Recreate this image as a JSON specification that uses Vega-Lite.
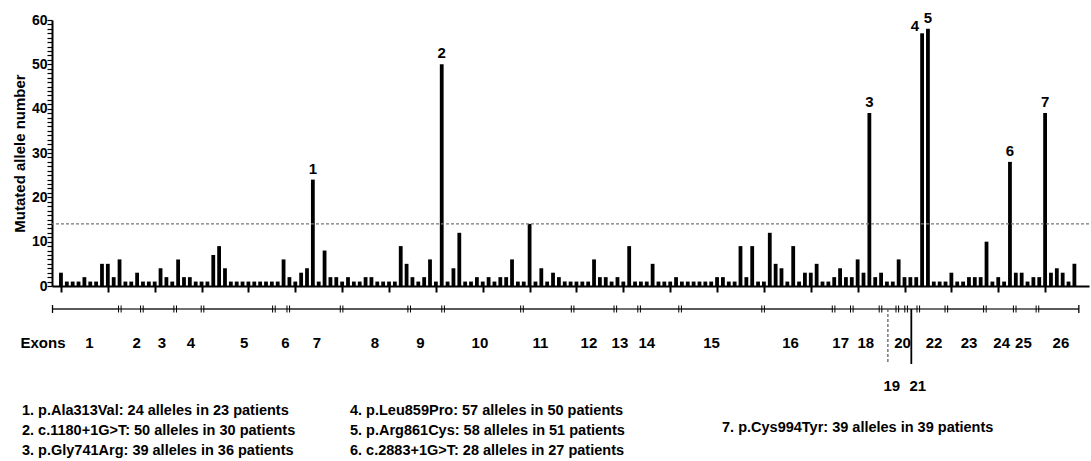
{
  "$schema": "https://vega.github.io/schema/vega-lite/v6.json",
  "autosize": {"type": "none"},
  "width": 1037,
  "height": 266,
  "padding": {"left": 52, "top": 20, "right": 2, "bottom": 175},
  "background": "white",
  "config": {"view": {"stroke": null}, "font": "Liberation Sans", "axisY": {"ticks": true, "tickColor": "#000", "tickSize": 5, "tickWidth": 1.2}},
  "datasets": {
    "bars": [
      {"i":1,"n":3},{"i":2,"n":1},{"i":3,"n":1},{"i":4,"n":1},{"i":5,"n":2},{"i":6,"n":1},{"i":7,"n":1},{"i":8,"n":5},{"i":9,"n":5},{"i":10,"n":2},
      {"i":11,"n":6},{"i":12,"n":1},{"i":13,"n":1},{"i":14,"n":3},{"i":15,"n":1},{"i":16,"n":1},{"i":17,"n":1},{"i":18,"n":4},{"i":19,"n":2},{"i":20,"n":1},
      {"i":21,"n":6},{"i":22,"n":2},{"i":23,"n":2},{"i":24,"n":1},{"i":25,"n":1},{"i":26,"n":1},{"i":27,"n":7},{"i":28,"n":9},{"i":29,"n":4},{"i":30,"n":1},
      {"i":31,"n":1},{"i":32,"n":1},{"i":33,"n":1},{"i":34,"n":1},{"i":35,"n":1},{"i":36,"n":1},{"i":37,"n":1},{"i":38,"n":1},{"i":39,"n":6},{"i":40,"n":2},
      {"i":41,"n":1},{"i":42,"n":3},{"i":43,"n":4},{"i":44,"n":24,"mut":"1"},{"i":45,"n":1},{"i":46,"n":8},{"i":47,"n":2},{"i":48,"n":2},{"i":49,"n":1},{"i":50,"n":2},
      {"i":51,"n":1},{"i":52,"n":1},{"i":53,"n":2},{"i":54,"n":2},{"i":55,"n":1},{"i":56,"n":1},{"i":57,"n":1},{"i":58,"n":1},{"i":59,"n":9},{"i":60,"n":5},
      {"i":61,"n":2},{"i":62,"n":1},{"i":63,"n":2},{"i":64,"n":6},{"i":65,"n":1},{"i":66,"n":50,"mut":"2"},{"i":67,"n":1},{"i":68,"n":4},{"i":69,"n":12},{"i":70,"n":1},
      {"i":71,"n":1},{"i":72,"n":2},{"i":73,"n":1},{"i":74,"n":2},{"i":75,"n":1},{"i":76,"n":2},{"i":77,"n":2},{"i":78,"n":6},{"i":79,"n":1},{"i":80,"n":1},
      {"i":81,"n":14},{"i":82,"n":1},{"i":83,"n":4},{"i":84,"n":1},{"i":85,"n":3},{"i":86,"n":2},{"i":87,"n":1},{"i":88,"n":1},{"i":89,"n":1},{"i":90,"n":1},
      {"i":91,"n":1},{"i":92,"n":6},{"i":93,"n":2},{"i":94,"n":2},{"i":95,"n":1},{"i":96,"n":2},{"i":97,"n":1},{"i":98,"n":9},{"i":99,"n":1},{"i":100,"n":1},
      {"i":101,"n":1},{"i":102,"n":5},{"i":103,"n":1},{"i":104,"n":1},{"i":105,"n":1},{"i":106,"n":2},{"i":107,"n":1},{"i":108,"n":1},{"i":109,"n":1},{"i":110,"n":1},
      {"i":111,"n":1},{"i":112,"n":1},{"i":113,"n":2},{"i":114,"n":2},{"i":115,"n":1},{"i":116,"n":1},{"i":117,"n":9},{"i":118,"n":2},{"i":119,"n":9},{"i":120,"n":1},
      {"i":121,"n":1},{"i":122,"n":12},{"i":123,"n":5},{"i":124,"n":4},{"i":125,"n":1},{"i":126,"n":9},{"i":127,"n":1},{"i":128,"n":3},{"i":129,"n":3},{"i":130,"n":5},
      {"i":131,"n":1},{"i":132,"n":1},{"i":133,"n":2},{"i":134,"n":4},{"i":135,"n":2},{"i":136,"n":2},{"i":137,"n":6},{"i":138,"n":3},{"i":139,"n":39,"mut":"3"},{"i":140,"n":2},
      {"i":141,"n":3},{"i":142,"n":1},{"i":143,"n":1},{"i":144,"n":6},{"i":145,"n":2},{"i":146,"n":2},{"i":147,"n":2},{"i":148,"n":57,"mut":"4"},{"i":149,"n":58,"mut":"5"},{"i":150,"n":1},
      {"i":151,"n":1},{"i":152,"n":1},{"i":153,"n":3},{"i":154,"n":1},{"i":155,"n":1},{"i":156,"n":2},{"i":157,"n":2},{"i":158,"n":2},{"i":159,"n":10},{"i":160,"n":1},
      {"i":161,"n":2},{"i":162,"n":1},{"i":163,"n":28,"mut":"6"},{"i":164,"n":3},{"i":165,"n":3},{"i":166,"n":1},{"i":167,"n":2},{"i":168,"n":2},{"i":169,"n":39,"mut":"7"},{"i":170,"n":3},
      {"i":171,"n":4},{"i":172,"n":3},{"i":173,"n":1},{"i":174,"n":5}
    ],
    "exons": [
      {"exon":"1","start":0.41,"end":11.79,"lx":6.63},
      {"exon":"2","start":11.79,"end":15.52,"lx":14.63},
      {"exon":"3","start":15.52,"end":21.15,"lx":18.89},
      {"exon":"4","start":21.15,"end":25.77,"lx":23.81},
      {"exon":"5","start":25.77,"end":37.84,"lx":32.82},
      {"exon":"6","start":37.84,"end":40.27,"lx":39.8},
      {"exon":"7","start":40.27,"end":49.28,"lx":45.13},
      {"exon":"8","start":49.28,"end":60.71,"lx":54.9},
      {"exon":"9","start":60.71,"end":66.44,"lx":62.6},
      {"exon":"10","start":66.44,"end":79.78,"lx":72.67},
      {"exon":"11","start":79.78,"end":88.34,"lx":82.9},
      {"exon":"12","start":88.34,"end":95.56,"lx":91.1},
      {"exon":"13","start":95.56,"end":99.58,"lx":96.33},
      {"exon":"14","start":99.58,"end":106.51,"lx":100.88},
      {"exon":"15","start":106.51,"end":120.54,"lx":111.84},
      {"exon":"16","start":120.54,"end":132.46,"lx":125.18},
      {"exon":"17","start":132.46,"end":135.54,"lx":133.65},
      {"exon":"18","start":135.54,"end":140.39,"lx":137.9},
      {"exon":"19","start":140.39,"end":143.23,"lx":142.3,"vx":141.64},
      {"exon":"20","start":143.23,"end":144.72,"lx":144.13},
      {"exon":"21","start":144.72,"end":146.78,"lx":146.7,"vx":145.6},
      {"exon":"22","start":146.78,"end":151.52,"lx":149.45},
      {"exon":"23","start":151.52,"end":158.04,"lx":155.37},
      {"exon":"24","start":158.04,"end":163.08,"lx":160.88},
      {"exon":"25","start":163.08,"end":166.92,"lx":164.55},
      {"exon":"26","start":166.92,"end":173.92,"lx":170.89}
    ],
    "bounds": [
      {"b":0.41,"end":true},{"b":11.79},{"b":15.52},{"b":21.15},{"b":25.77},{"b":37.84},{"b":40.27},{"b":49.28},{"b":60.71},{"b":66.44},
      {"b":79.78},{"b":88.34},{"b":95.56},{"b":99.58},{"b":106.51},{"b":120.54},{"b":132.46},{"b":135.54},{"b":140.39},{"b":143.23},
      {"b":144.72},{"b":146.78},{"b":151.52},{"b":158.04},{"b":163.08},{"b":166.92},{"b":173.92,"end":true}
    ],
    "notes": [
      {"t":"1. p.Ala313Val: 24 alleles in 23 patients","lx":-4.75,"row":4.636},
      {"t":"2. c.1180+1G>T: 50 alleles in 30 patients","lx":-4.75,"row":5.545},
      {"t":"3. p.Gly741Arg: 39 alleles in 36 patients","lx":-4.75,"row":6.455},
      {"t":"4. p.Leu859Pro: 57 alleles in 50 patients","lx":50.7,"row":4.636},
      {"t":"5. p.Arg861Cys: 58 alleles in 51 patients","lx":50.7,"row":5.545},
      {"t":"6. c.2883+1G>T: 28 alleles in 27 patients","lx":50.7,"row":6.455},
      {"t":"7. p.Cys994Tyr: 39 alleles in 39 patients","lx":113.6,"row":5.41}
    ]
  },
  "layer": [
    {
      "data": {"name": "bars"},
      "layer": [
        {
          "mark": {"type": "bar", "width": 3.8, "color": "#000"},
          "encoding": {
            "x": {"field": "i", "type": "quantitative",
              "scale": {"domain": [0.3238, 175.64], "nice": false, "zero": false},
              "axis": {"values": [1,2,3,4,5,6,7,8,9,10,11,12,13,14,15,16,17,18,19,20,21,22,23,24,25,26,27,28,29,30,31,32,33,34,35,36,37,38,39,40,41,42,43,44,45,46,47,48,49,50,51,52,53,54,55,56,57,58,59,60,61,62,63,64,65,66,67,68,69,70,71,72,73,74,75,76,77,78,79,80,81,82,83,84,85,86,87,88,89,90,91,92,93,94,95,96,97,98,99,100,101,102,103,104,105,106,107,108,109,110,111,112,113,114,115,116,117,118,119,120,121,122,123,124,125,126,127,128,129,130,131,132,133,134,135,136,137,138,139,140,141,142,143,144,145,146,147,148,149,150,151,152,153,154,155,156,157,158,159,160,161,162,163,164,165,166,167,168,169,170,171,172,173,174],
                "labels": false, "title": null, "grid": false, "tickSize": 6, "tickWidth": 2, "tickColor": "#000", "domainColor": "#000", "domainWidth": 2}},
            "y": {"field": "n", "type": "quantitative",
              "scale": {"domain": [0, 60], "nice": false},
              "axis": {"tickCount": 60, "ticks": true,
                "labelExpr": "(datum.value % 10 === 0) ? datum.label : ''", "labelOverlap": false, "grid": false,
                "tickSize": 5, "tickColor": "#000", "tickWidth": 1.2, "tickOpacity": 1, "domainColor": "#000", "domainWidth": 2,
                "labelFont": "Liberation Sans", "labelFontWeight": "bold", "labelFontSize": 14, "labelColor": "#000", "labelPadding": 0,
                "title": "Mutated allele number", "titleFont": "Liberation Sans", "titleFontSize": 15, "titleFontWeight": "bold", "titleColor": "#000", "titlePadding": 4}}
          }
        },
        {
          "data": {"values": [{"t": 14}]},
          "mark": {"type": "rule", "color": "#777", "strokeDash": [3, 2], "strokeWidth": 1.2},
          "encoding": {"y": {"field": "t", "type": "quantitative", "axis": {"tickCount": 60, "ticks": true, "tickSize": 5, "tickColor": "#000"}}}
        },
        {
          "transform": [{"filter": "datum.mut && datum.mut !== '4'"}],
          "mark": {"type": "text", "baseline": "alphabetic", "dy": -6, "font": "Liberation Sans", "fontWeight": "bold", "fontSize": 15, "color": "#000"},
          "encoding": {"x": {"field": "i", "type": "quantitative"}, "y": {"field": "n", "type": "quantitative"}, "text": {"field": "mut"}}
        },
        {
          "transform": [{"filter": "datum.mut === '4'"}],
          "mark": {"type": "text", "baseline": "alphabetic", "align": "right", "dx": -3, "dy": -2, "font": "Liberation Sans", "fontWeight": "bold", "fontSize": 15, "color": "#000"},
          "encoding": {"x": {"field": "i", "type": "quantitative"}, "y": {"field": "n", "type": "quantitative"}, "text": {"field": "mut"}}
        }
      ]
    },
    {
      "layer": [
        {
          "data": {"name": "exons"},
          "mark": {"type": "rule", "color": "#222", "strokeWidth": 1.3},
          "encoding": {
            "x": {"field": "start", "type": "quantitative", "scale": {"domain": [0.3238, 175.64], "nice": false, "zero": false}, "axis": null},
            "x2": {"field": "end"},
            "y": {"datum": 0, "type": "quantitative", "scale": {"domain": [0, 7], "range": [289, 443], "nice": false, "zero": false}, "axis": null}
          }
        },
        {
          "data": {"name": "bounds"},
          "transform": [{"filter": "!datum.end"}],
          "mark": {"type": "rule", "color": "#000", "strokeWidth": 1, "xOffset": -1.3},
          "encoding": {
            "x": {"field": "b", "type": "quantitative", "axis": null},
            "y": {"datum": -0.16, "type": "quantitative", "axis": null},
            "y2": {"datum": 0.16}
          }
        },
        {
          "data": {"name": "bounds"},
          "transform": [{"filter": "!datum.end"}],
          "mark": {"type": "rule", "color": "#000", "strokeWidth": 1, "xOffset": 1.3},
          "encoding": {
            "x": {"field": "b", "type": "quantitative", "axis": null},
            "y": {"datum": -0.16, "type": "quantitative", "axis": null},
            "y2": {"datum": 0.16}
          }
        },
        {
          "data": {"name": "bounds"},
          "transform": [{"filter": "datum.end"}],
          "mark": {"type": "rule", "color": "#000", "strokeWidth": 1.3},
          "encoding": {
            "x": {"field": "b", "type": "quantitative", "axis": null},
            "y": {"datum": -0.18, "type": "quantitative", "axis": null},
            "y2": {"datum": 0.18}
          }
        },
        {
          "data": {"name": "exons"},
          "transform": [{"filter": "datum.exon !== '19' && datum.exon !== '21'"}],
          "mark": {"type": "text", "baseline": "middle", "font": "Liberation Sans", "fontWeight": "bold", "fontSize": 15, "color": "#000"},
          "encoding": {
            "x": {"field": "lx", "type": "quantitative", "axis": null},
            "y": {"datum": 1.523, "type": "quantitative", "axis": null},
            "text": {"field": "exon"}
          }
        },
        {
          "data": {"name": "exons"},
          "transform": [{"filter": "datum.exon === '19' || datum.exon === '21'"}],
          "mark": {"type": "text", "baseline": "middle", "font": "Liberation Sans", "fontWeight": "bold", "fontSize": 15, "color": "#000"},
          "encoding": {
            "x": {"field": "lx", "type": "quantitative", "axis": null},
            "y": {"datum": 3.5, "type": "quantitative", "axis": null},
            "text": {"field": "exon"}
          }
        },
        {
          "data": {"name": "exons"},
          "transform": [{"filter": "datum.exon === '19'"}],
          "mark": {"type": "rule", "color": "#555", "strokeWidth": 1.2, "strokeDash": [3, 2]},
          "encoding": {
            "x": {"field": "vx", "type": "quantitative", "axis": null},
            "y": {"datum": 0, "type": "quantitative", "axis": null},
            "y2": {"datum": 2.5}
          }
        },
        {
          "data": {"name": "exons"},
          "transform": [{"filter": "datum.exon === '21'"}],
          "mark": {"type": "rule", "color": "#000", "strokeWidth": 1.8},
          "encoding": {
            "x": {"field": "vx", "type": "quantitative", "axis": null},
            "y": {"datum": 0, "type": "quantitative", "axis": null},
            "y2": {"datum": 2.5}
          }
        },
        {
          "data": {"values": [{"t": "Exons", "lx": -1.2}]},
          "mark": {"type": "text", "baseline": "middle", "font": "Liberation Sans", "fontWeight": "bold", "fontSize": 15, "color": "#000"},
          "encoding": {
            "x": {"field": "lx", "type": "quantitative", "axis": null},
            "y": {"datum": 1.523, "type": "quantitative", "axis": null},
            "text": {"field": "t"}
          }
        },
        {
          "data": {"name": "notes"},
          "mark": {"type": "text", "align": "left", "baseline": "middle", "font": "Liberation Sans", "fontWeight": "bold", "fontSize": 14.5, "color": "#000"},
          "encoding": {
            "x": {"field": "lx", "type": "quantitative", "axis": null},
            "y": {"field": "row", "type": "quantitative", "axis": null},
            "text": {"field": "t"}
          }
        }
      ]
    }
  ],
  "resolve": {"scale": {"x": "independent", "y": "independent"}}
}
